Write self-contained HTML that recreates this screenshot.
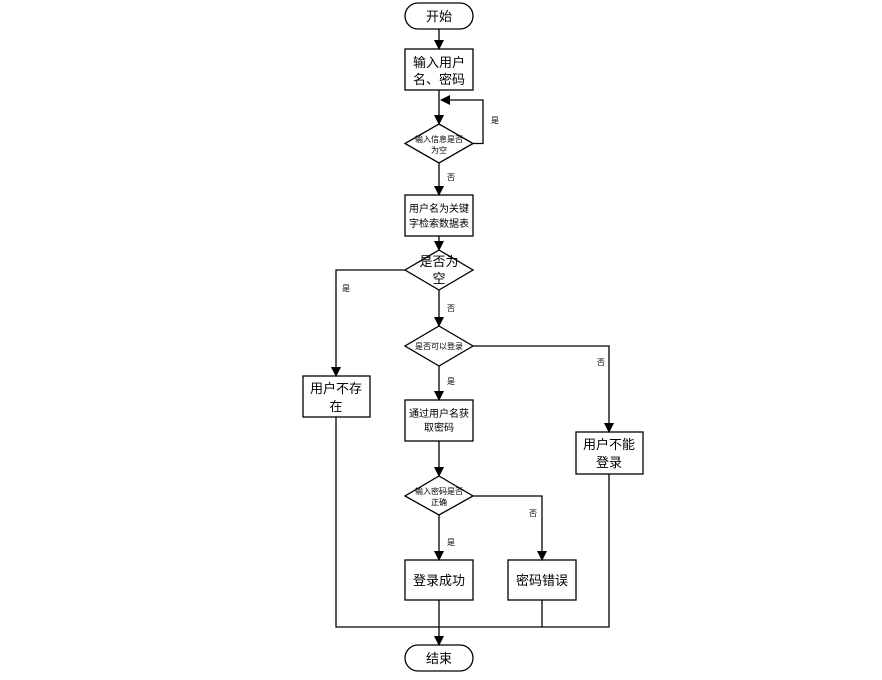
<!DOCTYPE html>
<html><head><meta charset="utf-8"><style>
html,body{margin:0;padding:0;background:#fff;}
text{font-family:"Liberation Sans","Noto Sans CJK SC",sans-serif;fill:#000;}
</style></head><body>
<svg width="882" height="675" viewBox="0 0 882 675" xmlns="http://www.w3.org/2000/svg">
<defs><marker id="a" markerWidth="10" markerHeight="10" refX="9" refY="5" orient="auto" markerUnits="userSpaceOnUse"><path d="M0,0 L10,5 L0,10 z" fill="#000"/></marker></defs>
<g stroke="#000" stroke-width="1.3" fill="#fff">
<rect x="405" y="3" width="68" height="26" rx="13"/>
<rect x="405" y="49" width="68" height="41"/>
<polygon points="439,124 473,143.5 439,163 405,143.5"/>
<rect x="405" y="195" width="68" height="41"/>
<polygon points="439,250 473,270 439,290 405,270"/>
<polygon points="439,326 473,346 439,366 405,346"/>
<rect x="303" y="376" width="67" height="41"/>
<rect x="405" y="400" width="68" height="41"/>
<rect x="576" y="432" width="67" height="42"/>
<polygon points="439,476 473,496 439,515 405,496"/>
<rect x="405" y="560" width="68" height="40"/>
<rect x="508" y="560" width="68" height="40"/>
<rect x="405" y="645" width="68" height="26" rx="13"/>
</g>
<g stroke="#000" stroke-width="1.3" fill="none">
<line x1="439" y1="29" x2="439" y2="49" marker-end="url(#a)"/>
<line x1="439" y1="90" x2="439" y2="124" marker-end="url(#a)"/>
<polyline points="473,143.5 483,143.5 483,100 441,100" marker-end="url(#a)"/>
<line x1="439" y1="163" x2="439" y2="195" marker-end="url(#a)"/>
<line x1="439" y1="236" x2="439" y2="250" marker-end="url(#a)"/>
<polyline points="405,270 336,270 336,376" marker-end="url(#a)"/>
<line x1="439" y1="290" x2="439" y2="326" marker-end="url(#a)"/>
<polyline points="473,346 609,346 609,432" marker-end="url(#a)"/>
<line x1="439" y1="366" x2="439" y2="400" marker-end="url(#a)"/>
<line x1="439" y1="441" x2="439" y2="476" marker-end="url(#a)"/>
<polyline points="473,496 542,496 542,560" marker-end="url(#a)"/>
<line x1="439" y1="515" x2="439" y2="560" marker-end="url(#a)"/>
<polyline points="336,417 336,627 609,627 609,474"/>
<line x1="542" y1="600" x2="542" y2="627"/>
<line x1="439" y1="600" x2="439" y2="645" marker-end="url(#a)"/>
</g>
<g text-anchor="middle">
<text x="439" y="21" font-size="13">开始</text>
<text x="439" y="67" font-size="13">输入用户</text>
<text x="439" y="84" font-size="13">名、密码</text>
<text x="439" y="142" font-size="8">输入信息是否</text>
<text x="439" y="153" font-size="8">为空</text>
<text x="439" y="212" font-size="10">用户名为关键</text>
<text x="439" y="227" font-size="10">字检索数据表</text>
<text x="439" y="266" font-size="13">是否为</text>
<text x="439" y="283" font-size="13">空</text>
<text x="439" y="349" font-size="8">是否可以登录</text>
<text x="336" y="393" font-size="13">用户不存</text>
<text x="336" y="411" font-size="13">在</text>
<text x="439" y="417" font-size="10">通过用户名获</text>
<text x="439" y="431" font-size="10">取密码</text>
<text x="609" y="449" font-size="13">用户不能</text>
<text x="609" y="467" font-size="13">登录</text>
<text x="439" y="494" font-size="8">输入密码是否</text>
<text x="439" y="505" font-size="8">正确</text>
<text x="439" y="585" font-size="13">登录成功</text>
<text x="542" y="585" font-size="13">密码错误</text>
<text x="439" y="663" font-size="13">结束</text>
<g font-size="8">
<text x="495" y="123">是</text>
<text x="451" y="180">否</text>
<text x="346" y="291">是</text>
<text x="451" y="311">否</text>
<text x="601" y="365">否</text>
<text x="451" y="384">是</text>
<text x="533" y="516">否</text>
<text x="451" y="545">是</text>
</g>
</g>
</svg>
</body></html>
